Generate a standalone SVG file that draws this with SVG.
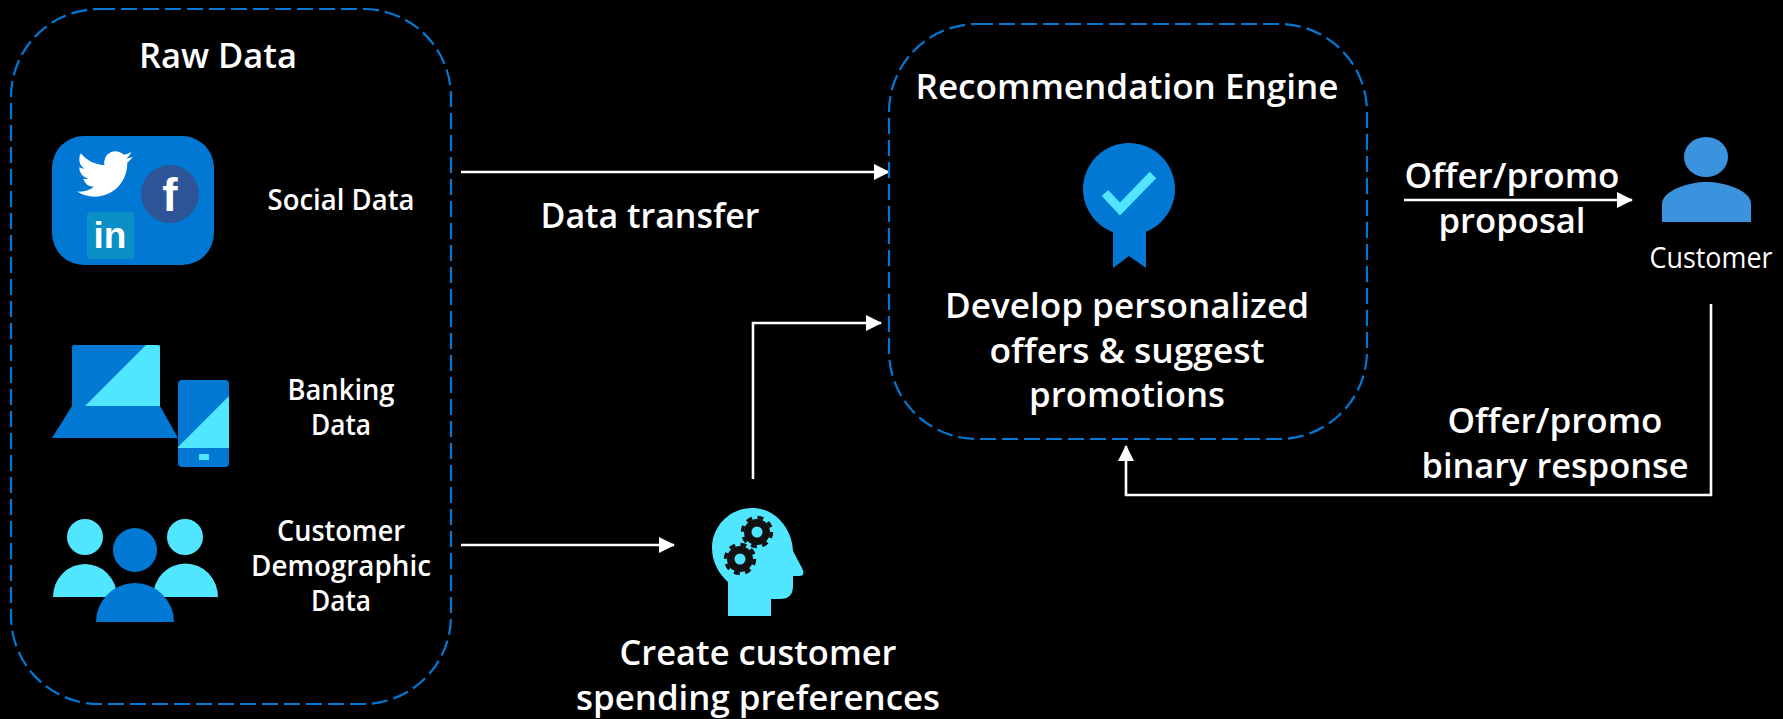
<svg xmlns="http://www.w3.org/2000/svg" width="1783" height="719" viewBox="0 0 1783 719">
<style>
text{font-family:"Open Sans","Noto Sans","Liberation Sans",sans-serif;fill:#fff;text-anchor:middle}
.h{font-size:35px;font-weight:600}
.s{font-size:28.5px;font-weight:560}
.frame{fill:none;stroke:#0078d4;stroke-width:2.2;stroke-dasharray:16 6}
.conn{fill:none;stroke:#fff;stroke-width:2.6}
.blue{fill:#0078d4}.cyan{fill:#50e6ff}
</style>
<defs>
<marker id="arrow" markerUnits="userSpaceOnUse" markerWidth="16" markerHeight="16" refX="15" refY="8" orient="auto"><path d="M0,0 L16,8 L0,16 Z" fill="#fff"/></marker>
<g id="gear"><circle r="13" fill="#111"/><circle r="14.5" fill="none" stroke="#111" stroke-width="3.5" stroke-dasharray="6 5.39"/><circle r="5.5" class="cyan"/></g>
</defs>
<rect width="1783" height="719" fill="#000"/>
<g id="connectors">
<path class="conn" d="M461,172 H889" marker-end="url(#arrow)"/>
<path class="conn" d="M461,545 H674" marker-end="url(#arrow)"/>
<path class="conn" d="M753,479 V323 H881" marker-end="url(#arrow)"/>
<path class="conn" d="M1404,200 H1632" marker-end="url(#arrow)"/>
<path class="conn" d="M1711,304 V495 H1126 V446" marker-end="url(#arrow)"/>
</g>
<g id="raw-data">
<rect class="frame" x="11" y="9" width="440" height="695" rx="88"/>
<text class="h" x="218" y="68" textLength="158" lengthAdjust="spacingAndGlyphs">Raw Data</text>
</g>
<g id="social">
<rect class="blue" x="52" y="136" width="162" height="129" rx="32"/>
<path transform="translate(77,146) scale(2.33)" fill="#fff" d="M23.953 4.57a10 10 0 01-2.825.775 4.958 4.958 0 002.163-2.723c-.951.555-2.005.959-3.127 1.184a4.92 4.92 0 00-8.384 4.482C7.69 8.095 4.067 6.13 1.64 3.162a4.822 4.822 0 00-.666 2.475c0 1.71.87 3.213 2.188 4.096a4.904 4.904 0 01-2.228-.616v.06a4.923 4.923 0 003.946 4.827 4.996 4.996 0 01-2.212.085 4.936 4.936 0 004.604 3.417 9.867 9.867 0 01-6.102 2.105c-.39 0-.779-.023-1.17-.067a13.995 13.995 0 007.557 2.209c9.053 0 13.998-7.496 13.998-13.985 0-.21 0-.42-.015-.63A9.935 9.935 0 0024 4.59z"/>
<circle cx="170" cy="194" r="29" fill="#2c5496"/>
<text x="170" y="211" style="font-family:'Liberation Sans',sans-serif;font-size:46px;font-weight:700">f</text>
<rect x="87" y="212" width="47" height="47" rx="3" fill="#0a8fc6"/>
<text x="110" y="248" style="font-family:'Liberation Sans',sans-serif;font-size:37px;font-weight:700">in</text>
<text class="s" x="341" y="210" textLength="147" lengthAdjust="spacingAndGlyphs">Social Data</text>
</g>
<g id="banking">
<rect class="blue" x="72" y="345" width="88" height="62" rx="2"/>
<path class="cyan" d="M146,345 H158 Q160,345 160,347 V406 H85 Z"/>
<path class="blue" d="M72,406 H160 L178,438 H52 Z"/>
<rect class="blue" x="178" y="380" width="51" height="87" rx="4"/>
<path class="cyan" d="M229,396 V448 H178 V447 Z"/>
<rect class="cyan" x="199" y="454" width="10" height="6"/>
<text class="s" x="341" y="400" textLength="107" lengthAdjust="spacingAndGlyphs">Banking</text>
<text class="s" x="341" y="435" textLength="60" lengthAdjust="spacingAndGlyphs">Data</text>
</g>
<g id="demographic">
<circle class="cyan" cx="85" cy="537" r="18"/>
<circle class="cyan" cx="185" cy="537" r="18"/>
<path class="cyan" d="M53,597 A32,33 0 0 1 117,597 Z"/>
<path class="cyan" d="M153,597 A32,33 0 0 1 218,597 Z"/>
<circle class="blue" cx="135" cy="550" r="22"/>
<path class="blue" d="M96,622 A39,39 0 0 1 174,622 Z"/>
<text class="s" x="341" y="541" textLength="128" lengthAdjust="spacingAndGlyphs">Customer</text>
<text class="s" x="341" y="576" textLength="180" lengthAdjust="spacingAndGlyphs">Demographic</text>
<text class="s" x="341" y="611" textLength="60" lengthAdjust="spacingAndGlyphs">Data</text>
</g>
<g id="spending">
<path class="cyan" d="M728,616 H771 V599 H780 Q793,599 793,586 V576 H799 Q806,576 802,568 L793,551 C792,528 775,508 752,508 C730,508 712,526 712,548 C712,562 719,574 728,582 Z"/>
<use href="#gear" x="757" y="532"/>
<use href="#gear" x="740" y="559"/>
<text class="h" x="758" y="665" textLength="277" lengthAdjust="spacingAndGlyphs">Create customer</text>
<text class="h" x="758" y="710" textLength="364" lengthAdjust="spacingAndGlyphs">spending preferences</text>
</g>
<g id="engine">
<rect class="frame" x="889" y="24" width="478" height="415" rx="88"/>
<text class="h" x="1127" y="99" textLength="423" lengthAdjust="spacingAndGlyphs">Recommendation Engine</text>
<path class="blue" d="M1113,230 V268 L1129,256 L1146,268 V230 Z"/>
<circle class="blue" cx="1129" cy="189" r="46"/>
<path d="M1105,193 L1120,209 L1153,175" fill="none" stroke="#50e6ff" stroke-width="9"/>
<text class="h" x="1127" y="318" textLength="364" lengthAdjust="spacingAndGlyphs">Develop personalized</text>
<text class="h" x="1127" y="363" textLength="275" lengthAdjust="spacingAndGlyphs">offers &amp; suggest</text>
<text class="h" x="1127" y="407" textLength="196" lengthAdjust="spacingAndGlyphs">promotions</text>
</g>
<g id="customer">
<ellipse cx="1706" cy="157" rx="22" ry="20" fill="#3a93dc"/>
<path d="M1662,222 V204 C1662,190 1690,182 1706,182 C1724,182 1751,190 1751,204 V222 Z" fill="#3a93dc"/>
<text class="s" x="1711" y="268" style="font-weight:400" textLength="123" lengthAdjust="spacingAndGlyphs">Customer</text>
</g>
<g id="labels">
<text class="h" x="650" y="228" textLength="219" lengthAdjust="spacingAndGlyphs">Data transfer</text>
<text class="h" x="1512" y="188" textLength="215" lengthAdjust="spacingAndGlyphs">Offer/promo</text>
<text class="h" x="1512" y="233" textLength="147" lengthAdjust="spacingAndGlyphs">proposal</text>
<text class="h" x="1555" y="433" textLength="215" lengthAdjust="spacingAndGlyphs">Offer/promo</text>
<text class="h" x="1555" y="478" textLength="267" lengthAdjust="spacingAndGlyphs">binary response</text>
</g>
</svg>
